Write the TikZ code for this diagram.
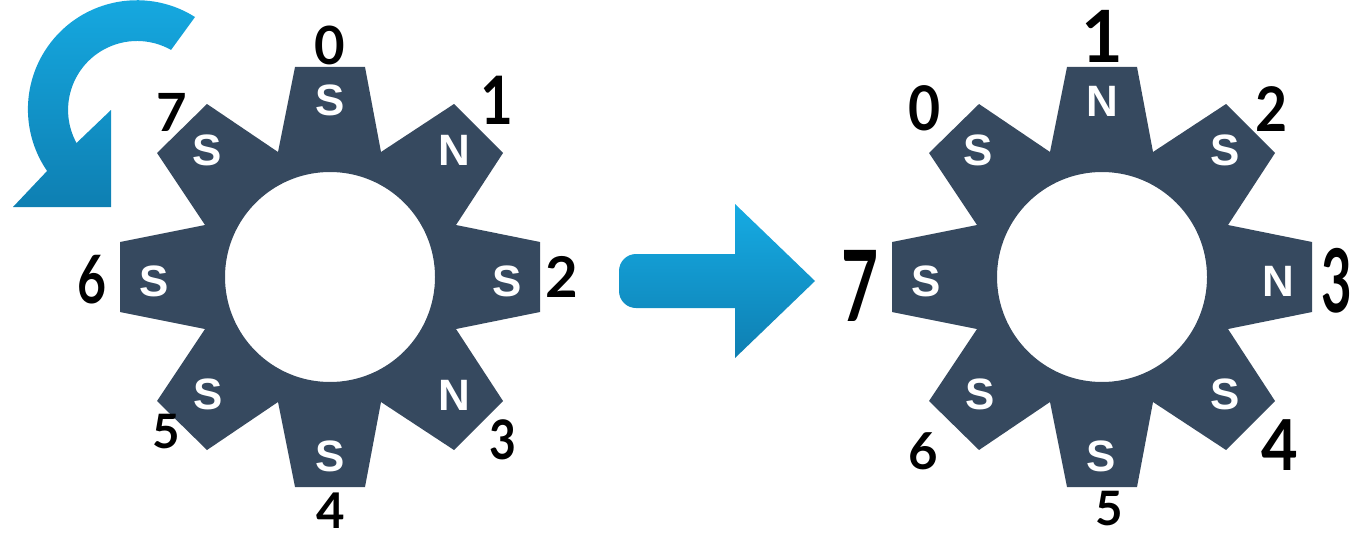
\documentclass[tikz,border=0pt]{standalone}
\usepackage{fontspec}
\setsansfont{Liberation Sans}
\newfontfamily\handfont{Lato}
\definecolor{gearblue}{HTML}{36495F}
\definecolor{arrowtop}{HTML}{16ABE3}
\definecolor{arrowbottom}{HTML}{0E7FB2}
\tikzset{
  gearbody/.style={fill=gearblue,even odd rule},
  arrowbody/.style={top color=arrowtop,bottom color=arrowbottom,draw=none},
  pole/.style={text=white,inner sep=0pt,font=\sffamily\bfseries\fontsize{25}{25}\selectfont},
  tag/.style={text=black,inner sep=0pt,font=\handfont\bfseries\fontsize{#1}{#1}\selectfont},
  narrow/.style={xscale=#1,transform shape},
}
\begin{document}
\begin{tikzpicture}[x=0.02cm,y=-0.02cm]
  \useasboundingbox (0,0) rectangle (1364,537);
  \foreach \dx in {0,772}{
    \fill[gearbody,shift={(\dx,0)}] (295,67) -- (365,67) -- (381,152) -- (454,104) -- (503,153) -- (456,225)
      -- (540,242) -- (540,312) -- (456,329) -- (503,401) -- (454,450) -- (381,402)
      -- (365,487) -- (295,487) -- (278,402) -- (207,450) -- (157,401) -- (205,329)
      -- (120,312) -- (120,242) -- (205,225) -- (157,153) -- (207,104) -- (278,152) -- cycle
      (330,277) circle [radius=105];
  }
  \shade[arrowbody] (195,17) arc[start angle=-57.8,end angle=-214.5,radius=109] -- (13,207) -- (111,207)
    -- (111,110) -- (76.5,143) arc[start angle=-208.6,end angle=-60.5,radius=69] -- cycle;
  \shade[arrowbody] (735,254) [rounded corners=0.34cm] -- (619,254) -- (619,308) [sharp corners] -- (735,308)
    -- (735,358) -- (815,281) -- (735,204) -- cycle;
  \node[pole] (a0) at (330,100) {S};
  \node[pole] (a1) at (454,150) {N};
  \node[pole] (a2) at (507,281) {S};
  \node[pole] (a3) at (454,395) {N};
  \node[pole] (a4) at (330,456) {S};
  \node[pole] (a5) at (208,394) {S};
  \node[pole] (a6) at (154,281) {S};
  \node[pole] (a7) at (207,150) {S};
  \node[pole] (b1) at (1102,101) {N};
  \node[pole] (b2) at (1225,150) {S};
  \node[pole] (b3) at (1278,281) {N};
  \node[pole] (b4) at (1225,394) {S};
  \node[pole] (b5) at (1101,456) {S};
  \node[pole] (b6) at (980,394) {S};
  \node[pole] (b7) at (926,281) {S};
  \node[pole] (b0) at (978,150) {S};
  \node[tag=30] (na0) at (330,45) {0};
  \node[tag=38,narrow=.85] (na1) at (497,100) {1};
  \node[tag=32] (na2) at (562,277) {2};
  \node[tag=31,narrow=.85] (na3) at (503,440) {3};
  \node[tag=28] (na4) at (331,511) {4};
  \node[tag=27] (na5) at (166,432) {5};
  \node[tag=38,narrow=.75] (na6) at (92,280) {6};
  \node[tag=30] (na7) at (172,112) {7};
  \node[tag=35,narrow=.9] (nb0) at (925,108) {0};
  \node[tag=41] (nb1) at (1102,36) {1};
  \node[tag=35,narrow=.9] (nb2) at (1272,109) {2};
  \node[tag=50,narrow=.6] (nb3) at (1337,281) {3};
  \node[tag=40,narrow=.9] (nb4) at (1280,445) {4};
  \node[tag=27] (nb5) at (1109,509) {5};
  \node[tag=29] (nb6) at (923,451) {6};
  \node[tag=56,narrow=.65] (nb7) at (860,286) {7};
\end{tikzpicture}
\end{document}
